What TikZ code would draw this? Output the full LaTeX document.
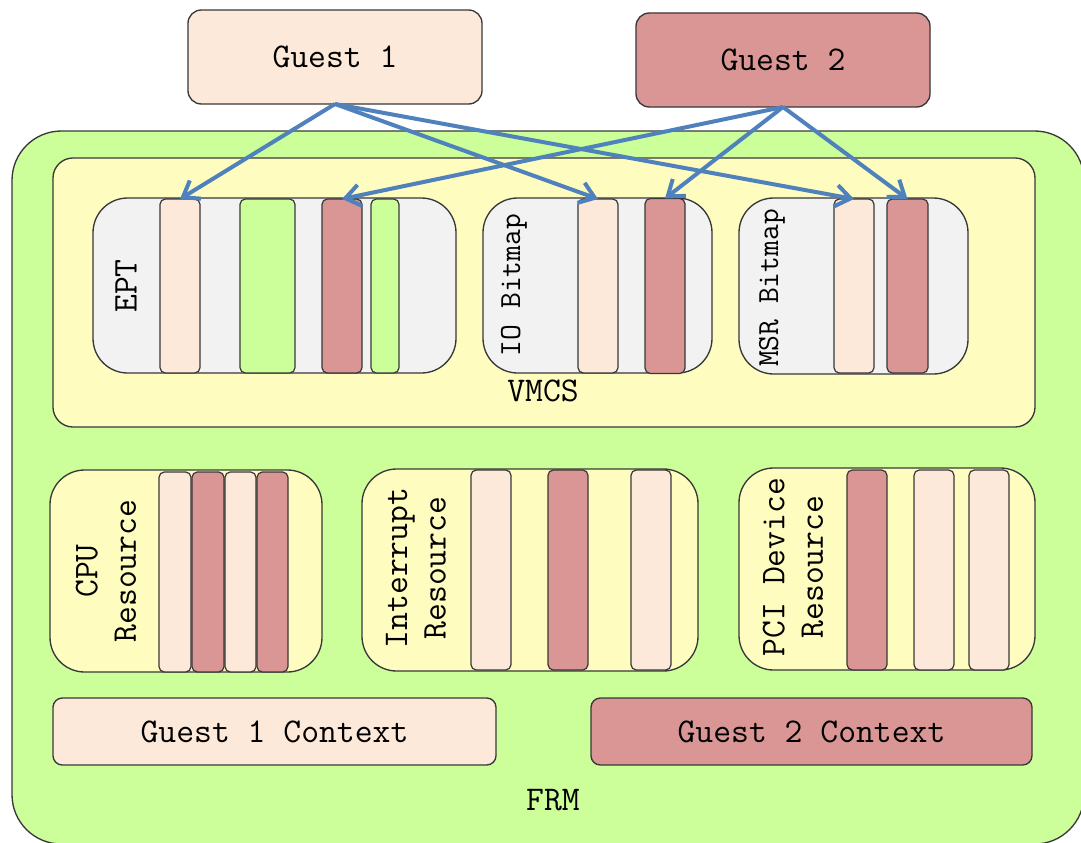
\documentclass[tikz,border=0pt]{standalone}
\usepackage{fontspec}
\usetikzlibrary{arrows.meta,positioning}
\definecolor{peach}{HTML}{FDE9D9}
\definecolor{rose}{HTML}{D99694}
\definecolor{lime}{HTML}{CCFF99}
\definecolor{cream}{HTML}{FFFCC0}
\definecolor{pale}{HTML}{F2F2F2}
\definecolor{link}{HTML}{4F81BD}
\definecolor{edge}{HTML}{383838}
\tikzset{
wh/.style 2 args={minimum width=#1*0.75pt, minimum height=#2*0.75pt}, % sizes in pixels
box/.style={draw=edge, line width=1pt, inner sep=0pt, outer sep=0pt},
slot/.style={box, line width=0.9pt, rounded corners=4pt},
txt/.style={font=\ttfamily\fontsize{26}{29}\selectfont, align=center},
small/.style={font=\ttfamily\fontsize{23}{27}\selectfont},
map/.style={link, line width=3pt, -{Straight Barb[length=11pt,width=16pt,line width=3pt]}},
}
\begin{document}
\begin{tikzpicture}[x=0.75pt,y=0.75pt,yscale=-1,xscale=1]
\useasboundingbox (0,0) rectangle (1081,842);
%Guests
\node[box, fill=peach, rounded corners=10pt, wh={294}{94}, txt] (guestone) at (335,57) {Guest 1};
\node[box, fill=rose, rounded corners=10pt, wh={294}{94}, txt] (guesttwo) at (783,60) {Guest 2};
%FRM
\node[box, fill=lime, rounded corners=37pt, wh={1072}{713}] (frm) at (548,487.5) {};
\node[txt] (frmlbl) at (553,800) {FRM};
%VMCS
\node[box, fill=cream, rounded corners=15pt, wh={982}{269}] (vmcs) at (544,292.5) {};
\node[txt] (vmcslbl) at (543,391) {VMCS};
%EPT
\node[box, fill=pale, rounded corners=26pt, wh={363}{175}] (ept) at (274.5,285.5) {};
\node[txt, rotate=90] (eptlbl) at (126,286) {EPT};
\node[slot, fill=peach, wh={40}{174}] (eptone) at (180,286) {};
\node[slot, fill=lime, wh={55}{174}] (eptfree) at (267.5,286) {};
\node[slot, fill=rose, wh={40}{174}] (epttwo) at (342,286) {};
\node[slot, fill=lime, wh={28}{174}] (eptfreeb) at (385,286) {};
%IO Bitmap
\node[box, fill=pale, rounded corners=26pt, wh={229}{175}] (iobmp) at (597.5,285.5) {};
\node[small, rotate=90] (iolbl) at (514,285) {IO Bitmap};
\node[slot, fill=peach, wh={40}{174}] (ioone) at (598,286) {};
\node[slot, fill=rose, wh={40}{175}] (iotwo) at (665,286) {};
%MSR Bitmap
\node[box, fill=pale, rounded corners=26pt, wh={229}{176}] (msrbmp) at (853.5,286) {};
\node[small, rotate=90] (msrlbl) at (772,288) {MSR Bitmap};
\node[slot, fill=peach, wh={40}{174}] (msrone) at (854,286) {};
\node[slot, fill=rose, wh={41}{174}] (msrtwo) at (907.5,286) {};
%CPU
\node[box, fill=cream, rounded corners=26pt, wh={272}{202}] (cpu) at (186,571) {};
\node[txt, rotate=90] (cpulbl) at (106,571) {CPU\\Resource};
\node[slot, fill=peach, wh={32}{200}] (cpua) at (175,572) {};
\node[slot, fill=rose, wh={32}{200}] (cpub) at (208,572) {};
\node[slot, fill=peach, wh={31}{200}] (cpuc) at (240.5,572) {};
\node[slot, fill=rose, wh={31}{200}] (cpud) at (272.5,572) {};
%Interrupt
\node[box, fill=cream, rounded corners=26pt, wh={336}{202}] (intr) at (530,570) {};
\node[txt, rotate=90] (intrlbl) at (416,568) {Interrupt\\Resource};
\node[slot, fill=peach, wh={40}{200}] (intra) at (491,570) {};
\node[slot, fill=rose, wh={40}{200}] (intrb) at (568,570) {};
\node[slot, fill=peach, wh={40}{200}] (intrc) at (651,570) {};
%PCI
\node[box, fill=cream, rounded corners=26pt, wh={296}{202}] (pci) at (887,569) {};
\node[txt, rotate=90] (pcilbl) at (793,567) {PCI Device\\Resource};
\node[slot, fill=rose, wh={40}{200}] (pcia) at (867,570) {};
\node[slot, fill=peach, wh={40}{200}] (pcib) at (934,570) {};
\node[slot, fill=peach, wh={40}{200}] (pcic) at (989,570) {};
%Contexts
\node[box, fill=peach, rounded corners=7pt, wh={443}{67}, txt] (ctxone) at (274.5,731.5) {Guest 1 Context};
\node[box, fill=rose, rounded corners=7pt, wh={441}{67}, txt] (ctxtwo) at (811.5,731.5) {Guest 2 Context};
%Mappings
\draw[map] (guestone.south) -- (eptone.north);
\draw[map] (guestone.south) -- (ioone.north);
\draw[map] (guestone.south) -- (msrone.north);
\draw[map] (guesttwo.south) -- (epttwo.north);
\draw[map] (guesttwo.south) -- (iotwo.north);
\draw[map] (guesttwo.south) -- (msrtwo.north);
\end{tikzpicture}
\end{document}
